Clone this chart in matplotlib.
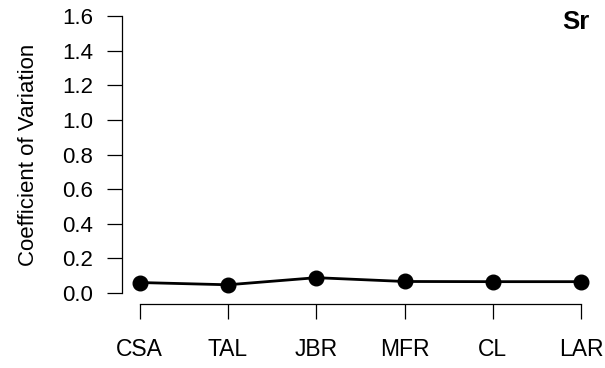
import matplotlib
matplotlib.use("Agg")
import matplotlib.pyplot as plt

plt.rcParams['font.family'] = ['Liberation Sans', 'DejaVu Sans']

# data
sites = ['CSA', 'TAL', 'JBR', 'MFR', 'CL', 'LAR']
cv = [0.060, 0.047, 0.088, 0.066, 0.065, 0.065]
yticks = [0.0, 0.2, 0.4, 0.6, 0.8, 1.0, 1.2, 1.4, 1.6]
element = 'Sr'

x = list(range(1, len(sites) + 1))

fig = plt.figure(figsize=(6.05, 3.68), dpi=100)
ax = fig.add_axes([0.2017, 0.174, 0.788, 0.812])

ax.plot(x, cv, color='black', lw=2.0, marker='o', ms=10.5)

# R-like axes (4% padding, detached look)
ax.set_xlim(1 - 0.04 * 5, 6 + 0.04 * 5)
ax.set_ylim(0 - 0.04 * 1.6, 1.6 + 0.04 * 1.6)
ax.spines['top'].set_visible(False)
ax.spines['right'].set_visible(False)
ax.spines['left'].set_bounds(0, 1.6)
ax.spines['bottom'].set_bounds(1, 6)
for s in ('left', 'bottom'):
    ax.spines[s].set_linewidth(0.9)

ax.set_xticks(x)
ax.set_xticklabels(sites)
ax.set_yticks(yticks)
ax.set_yticklabels(['%.1f' % v for v in yticks])
ax.tick_params(axis='both', length=10.5, width=0.9, colors='black')
ax.tick_params(axis='x', pad=14, labelsize=16.5)
ax.tick_params(axis='y', pad=10.5, labelsize=16)

ax.set_ylabel('Coefficient of Variation', fontsize=16)
ax.yaxis.set_label_coords(-0.175, 0.5)

ax.text(0.98, 0.943, element, transform=ax.transAxes, ha='right', va='center',
        fontsize=18.5, fontweight='bold')

fig.savefig('out.png', dpi=100)
